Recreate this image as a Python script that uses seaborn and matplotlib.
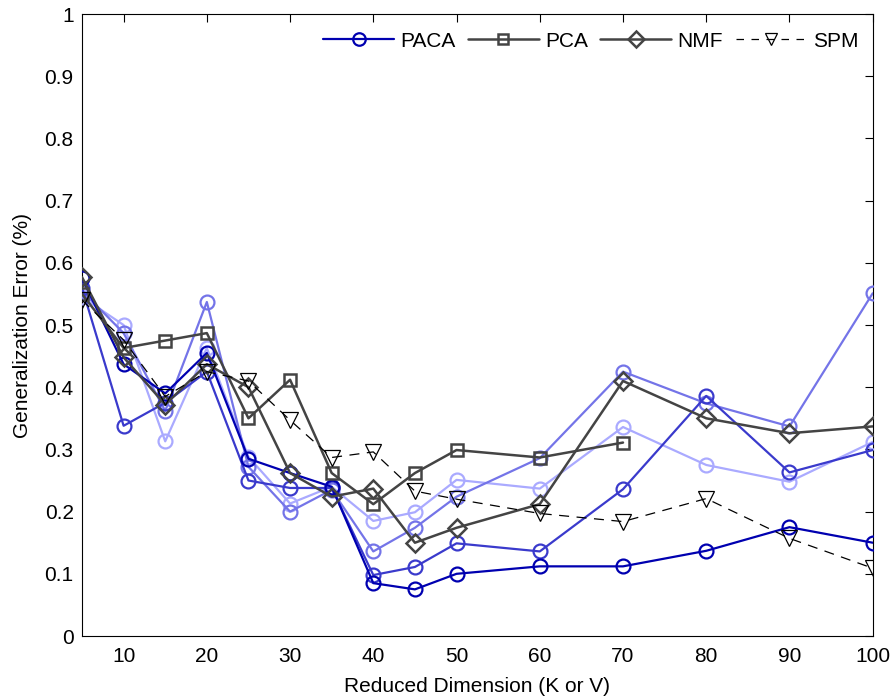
import matplotlib
matplotlib.use("Agg")
import matplotlib.pyplot as plt
import seaborn as sns
import pandas as pd
from matplotlib.lines import Line2D

dims = [5, 10, 15, 20, 25, 30, 35, 40, 45, 50, 60, 70, 80, 90, 100]
paca_1 = [0.575, 0.437, 0.390, 0.455, 0.285, 0.262, 0.240, 0.085, 0.075, 0.100, 0.112, 0.112, 0.137, 0.175, 0.150]
paca_2 = [0.560, 0.338, 0.375, 0.425, 0.250, 0.238, 0.238, 0.098, 0.111, 0.149, 0.136, 0.236, 0.386, 0.263, 0.299]
paca_3 = [0.555, 0.487, 0.362, 0.537, 0.272, 0.200, 0.235, 0.136, 0.174, 0.224, 0.286, 0.425, 0.374, 0.337, 0.551]
paca_4 = [0.545, 0.500, 0.313, 0.463, 0.288, 0.213, 0.240, 0.185, 0.199, 0.251, 0.237, 0.336, 0.275, 0.248, 0.312]
pca_dims = [5, 10, 15, 20, 25, 30, 35, 40, 45, 50, 60, 70]
pca = [0.550, 0.463, 0.475, 0.487, 0.350, 0.412, 0.262, 0.212, 0.262, 0.299, 0.287, 0.311]
nmf = [0.577, 0.448, 0.372, 0.437, 0.400, 0.262, 0.224, 0.237, 0.150, 0.174, 0.212, 0.410, 0.350, 0.326, 0.337]
spm = [0.540, 0.476, 0.385, 0.425, 0.410, 0.347, 0.287, 0.296, 0.233, 0.220, 0.197, 0.184, 0.221, 0.157, 0.109]

x_ticks = [10, 20, 30, 40, 50, 60, 70, 80, 90, 100]
y_ticks = [0, 0.1, 0.2, 0.3, 0.4, 0.5, 0.6, 0.7, 0.8, 0.9, 1.0]
y_tick_labels = ["0", "0.1", "0.2", "0.3", "0.4", "0.5", "0.6", "0.7", "0.8", "0.9", "1"]

sns.set_theme(style="white")
plt.rcParams['font.family'] = ['Liberation Sans', 'DejaVu Sans']
plt.rcParams['text.color'] = 'black'
plt.rcParams['axes.labelcolor'] = 'black'

fig = plt.figure(figsize=(8.96, 7.0), dpi=100)
ax = fig.add_axes([0.0915, 0.0914, 0.8825, 0.8886])

paca_colors = ["#0000b0", "#3a3acc", "#7474e8", "#aaaaff"]
paca_series = [paca_1, paca_2, paca_3, paca_4]
for vals, col in list(zip(paca_series, paca_colors))[::-1]:
    df = pd.DataFrame({"x": dims, "y": vals})
    sns.lineplot(data=df, x="x", y="y", ax=ax, color=col, lw=1.6, marker="o",
                 markersize=10, markerfacecolor="none", markeredgecolor=col,
                 markeredgewidth=1.6, sort=False, zorder=3)

gray = "#444444"
df = pd.DataFrame({"x": pca_dims, "y": pca})
sns.lineplot(data=df, x="x", y="y", ax=ax, color=gray, lw=1.8, marker="s",
             markersize=9, markerfacecolor="none", markeredgecolor=gray,
             markeredgewidth=1.8, sort=False, zorder=4)
df = pd.DataFrame({"x": dims, "y": nmf})
sns.lineplot(data=df, x="x", y="y", ax=ax, color=gray, lw=1.8, marker="D",
             markersize=9, markerfacecolor="none", markeredgecolor=gray,
             markeredgewidth=1.8, sort=False, zorder=4)
df = pd.DataFrame({"x": dims, "y": spm})
sns.lineplot(data=df, x="x", y="y", ax=ax, color="black", lw=0.9, marker="v",
             markersize=11, markerfacecolor="none", markeredgecolor="black",
             markeredgewidth=0.9, sort=False, zorder=5)
ax.lines[-1].set_dashes((8, 6))

ax.set_xlim(5, 100)
ax.set_ylim(0, 1)
ax.set_xticks(x_ticks)
ax.set_yticks(y_ticks)
ax.set_yticklabels(y_tick_labels)
ax.tick_params(direction="in", length=6, width=0.8, top=True, right=True,
               labelsize=15, colors="black", labelcolor="black", pad=6)
ax.tick_params(axis="x", pad=8)
ax.set_xlabel("Reduced Dimension (K or V)", fontsize=15, labelpad=8, color="black")
ax.set_ylabel("Generalization Error (%)", fontsize=15, labelpad=9, color="black")
for s in ax.spines.values():
    s.set_color("black")
    s.set_linewidth(0.8)

handles = [
    Line2D([], [], color=paca_colors[0], lw=1.6, marker="o", markersize=9,
           markerfacecolor="none", markeredgewidth=1.6),
    Line2D([], [], color=gray, lw=1.8, marker="s", markersize=7,
           markerfacecolor="none", markeredgewidth=1.8),
    Line2D([], [], color=gray, lw=1.8, marker="D", markersize=8,
           markerfacecolor="none", markeredgewidth=1.8),
    Line2D([], [], color="black", lw=0.9, marker="v", markersize=8,
           markerfacecolor="none", markeredgewidth=0.9, dashes=(6, 6)),
]
leg = ax.legend(handles, ["PACA", "PCA", "NMF", "SPM"], loc="upper right",
                ncol=4, frameon=False, fontsize=15, handlelength=3.4,
                handletextpad=0.3, columnspacing=0.6,
                bbox_to_anchor=(1.0, 0.995), borderaxespad=0.3)
for t in leg.get_texts():
    t.set_color("black")

fig.savefig("out.png", dpi=100)
